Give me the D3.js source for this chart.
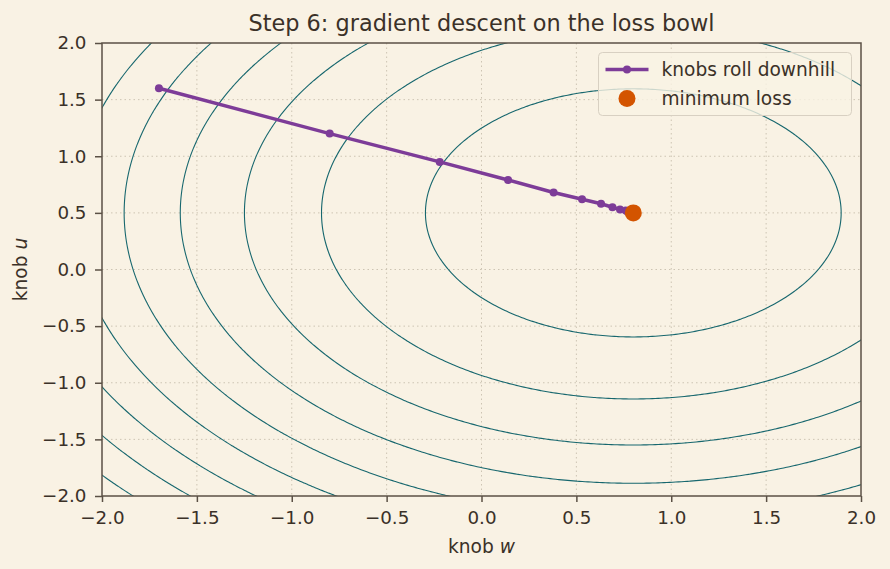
<!DOCTYPE html>
<html>
<head>
<meta charset="utf-8">
<script src="https://cdn.jsdelivr.net/npm/d3@7"></script>
<style>
  body { margin: 0; background: #f9f2e4; }
  text { font-family: "DejaVu Sans", sans-serif; fill: #3b3128; }
</style>
</head>
<body>
<div id="chart"></div>
<script>
// loss bowl: (w - 0.8)^2 + (u - 0.5)^2 + floor
const minimum = [0.8, 0.5];
const lossFloor = 0.3;
const lossLevels = [1.5, 3.0, 4.5, 6.0, 7.5, 9.0, 10.5, 12.0, 13.5];

// descent path
const pathW = [-1.70, -0.80, -0.22, 0.14, 0.38, 0.53, 0.63, 0.69, 0.73, 0.76, 0.77];
const pathU = [1.60, 1.20, 0.95, 0.79, 0.68, 0.62, 0.58, 0.55, 0.53, 0.52, 0.51];

const xTicks = [-2.0, -1.5, -1.0, -0.5, 0.0, 0.5, 1.0, 1.5, 2.0];
const yTicks = [-2.0, -1.5, -1.0, -0.5, 0.0, 0.5, 1.0, 1.5, 2.0];

const width = 890, height = 569;
const margin = { top: 43, right: 29, bottom: 73, left: 102 };
const iw = width - margin.left - margin.right,
      ih = height - margin.top - margin.bottom;

const ink = "#3b3128", spine = "#5b5045";

let svg = d3.select("#chart").append("svg")
  .attr("width", width).attr("height", height);

svg.append("rect").attr("width", width).attr("height", height).attr("fill", "#f9f2e4");

let x = d3.scaleLinear().domain([-2, 2]).range([0, iw]);
let y = d3.scaleLinear().domain([-2, 2]).range([ih, 0]);

let g = svg.append("g").attr("transform", `translate(${margin.left},${margin.top})`);

svg.append("defs").append("clipPath").attr("id", "plotclip")
  .append("rect").attr("width", iw).attr("height", ih);

// grid
g.append("g").selectAll("line").data(xTicks.slice(1, -1)).enter().append("line")
  .attr("x1", d => x(d)).attr("x2", d => x(d)).attr("y1", 0).attr("y2", ih)
  .attr("stroke", "#cdc4b3").attr("stroke-width", 1).attr("stroke-dasharray", "1.5,3");
g.append("g").selectAll("line").data(yTicks.slice(1, -1)).enter().append("line")
  .attr("y1", d => y(d)).attr("y2", d => y(d)).attr("x1", 0).attr("x2", iw)
  .attr("stroke", "#cdc4b3").attr("stroke-width", 1).attr("stroke-dasharray", "1.5,3");

// contours on a grid a bit larger than the view
const n = 300, lo = -2.3, hi = 2.3;
const step = (hi - lo) / (n - 1);
let values = new Array(n * n);
for (let j = 0; j < n; j++) {
  for (let i = 0; i < n; i++) {
    let w = lo + i * step, u = lo + j * step;
    values[j * n + i] = (w - minimum[0]) ** 2 + (u - minimum[1]) ** 2 + lossFloor;
  }
}
let contours = d3.contours().size([n, n]).thresholds(lossLevels)(values);
let proj = d3.geoTransform({
  point: function (px, py) {
    this.stream.point(x(lo + (px - 0.5) * step), y(lo + (py - 0.5) * step));
  }
});
g.append("g").attr("clip-path", "url(#plotclip)")
  .selectAll("path").data(contours).enter().append("path")
  .attr("d", d3.geoPath(proj))
  .attr("fill", "none").attr("stroke", "#17676e").attr("stroke-width", 1.1);

// descent path
let pts = pathW.map((w, i) => [w, pathU[i]]);
g.append("path").datum(pts)
  .attr("d", d3.line().x(d => x(d[0])).y(d => y(d[1])))
  .attr("fill", "none").attr("stroke", "#7d3c98").attr("stroke-width", 3.5);
g.append("g").selectAll("circle").data(pts).enter().append("circle")
  .attr("cx", d => x(d[0])).attr("cy", d => y(d[1])).attr("r", 4)
  .attr("fill", "#7d3c98");

g.append("circle").attr("cx", x(minimum[0])).attr("cy", y(minimum[1])).attr("r", 8.5)
  .attr("fill", "#d35400");

// axes
let fmt = d3.format(".1f");
let xAxis = g.append("g").attr("transform", `translate(0,${ih})`)
  .call(d3.axisBottom(x).tickValues(xTicks).tickFormat(fmt).tickSize(6).tickPadding(9.5));
let yAxis = g.append("g")
  .call(d3.axisLeft(y).tickValues(yTicks).tickFormat(fmt).tickSize(7).tickPadding(8.5));
[xAxis, yAxis].forEach(a => {
  a.select(".domain").remove();
  a.selectAll("line").attr("stroke", spine).attr("stroke-width", 1.5);
  a.selectAll("text").style("font-size", "18.3px").attr("fill", ink);
  a.attr("font-family", null);
});

g.append("rect").attr("width", iw).attr("height", ih)
  .attr("fill", "none").attr("stroke", spine).attr("stroke-width", 1.5);

// labels
svg.append("text").attr("x", margin.left + iw / 2).attr("y", 31)
  .attr("text-anchor", "middle").style("font-size", "22.4px")
  .text("Step 6: gradient descent on the loss bowl");

let xl = svg.append("text").attr("x", margin.left + iw / 2).attr("y", 553)
  .attr("text-anchor", "middle").style("font-size", "18.6px");
xl.append("tspan").text("knob ");
xl.append("tspan").style("font-style", "italic").text("w");

let yl = svg.append("text")
  .attr("transform", `translate(27,${margin.top + ih / 2}) rotate(-90)`)
  .attr("text-anchor", "middle").style("font-size", "18.6px");
yl.append("tspan").text("knob ");
yl.append("tspan").style("font-style", "italic").text("u");

// legend
let lg = svg.append("g").attr("transform", "translate(598.5,52.5)");
lg.append("rect").attr("width", 253).attr("height", 63).attr("rx", 4)
  .attr("fill", "#f9f2e4").attr("fill-opacity", 0.8)
  .attr("stroke", "#d8d0c2").attr("stroke-width", 1);
lg.append("line").attr("x1", 7).attr("x2", 50).attr("y1", 17).attr("y2", 17)
  .attr("stroke", "#7d3c98").attr("stroke-width", 3.5);
lg.append("circle").attr("cx", 28.5).attr("cy", 17).attr("r", 4).attr("fill", "#7d3c98");
lg.append("circle").attr("cx", 28.5).attr("cy", 46).attr("r", 8.5).attr("fill", "#d35400");
lg.append("text").attr("x", 63).attr("y", 23.5).style("font-size", "18.6px").text("knobs roll downhill");
lg.append("text").attr("x", 63).attr("y", 52.5).style("font-size", "18.6px").text("minimum loss");
</script>
</body>
</html>
